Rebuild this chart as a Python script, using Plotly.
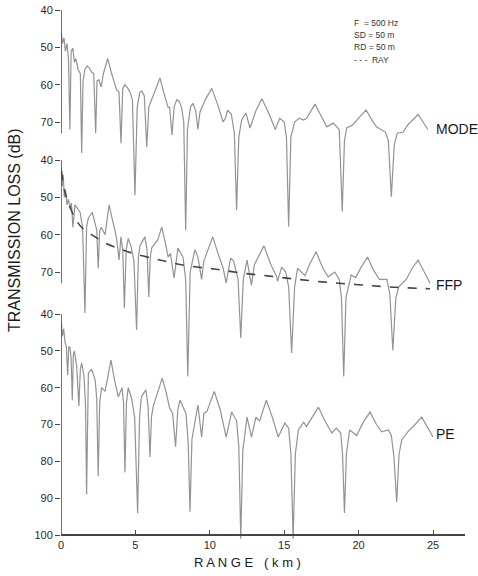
import plotly.graph_objects as go

# ---------------- data ----------------
MODE_R = [0.02, 0.1, 0.2, 0.3, 0.4, 0.5, 0.6, 0.68, 0.8, 0.9, 1.0, 1.15, 1.3, 1.39, 1.48, 1.6, 1.75, 1.9, 2.05, 2.2,
          2.33, 2.42, 2.55, 2.7, 2.85, 3.14, 3.4, 3.6, 3.74, 3.9, 4.03, 4.15, 4.3, 4.5, 4.64, 4.8, 4.97, 5.12, 5.3, 5.44,
          5.6, 5.76, 5.9, 6.0, 6.3, 6.65, 6.9, 7.19, 7.3, 7.46, 7.6, 7.78, 7.95, 8.1, 8.25, 8.38, 8.5, 8.7, 8.87, 9.05,
          9.2, 9.34, 9.7, 10.13, 10.5, 10.9, 11.05, 11.2, 11.45, 11.65, 11.8, 11.95, 12.14, 12.43, 12.7, 13.1, 13.5, 14.0, 14.4, 14.7,
          15.0, 15.15, 15.3, 15.45, 15.7, 16.0, 16.3, 16.5, 17.07, 17.5, 17.86, 18.3, 18.7, 18.9, 19.05, 19.2, 19.6, 20.1, 20.5, 20.9,
          21.2, 21.8, 22.0, 22.2, 22.4, 22.6, 23.0, 23.3, 24.0, 24.66]
MODE_TL = [46, 49, 47.5, 51, 49, 53, 72, 51, 50.2, 54, 53, 56, 57, 78.3, 59, 56, 55, 55.5, 56.6, 57,
           73, 59, 58.7, 60.6, 57, 53, 57, 60, 61.4, 62, 75.7, 61, 60, 61, 62, 64, 89.6, 66, 62, 61.7,
           63, 76.7, 66, 65, 62, 58.2, 62, 66, 66, 73.5, 66, 64, 64.5, 66, 70, 99, 72, 66, 65, 67,
           72, 67.3, 64, 61, 65, 70, 69, 66.8, 68, 73, 93.6, 74, 69.5, 67.6, 71.6, 67, 63.8, 68, 72, 69,
           70, 74, 98, 74, 70, 69, 69.5, 69, 65.2, 68.5, 71.3, 70.3, 72, 94, 75, 71.6, 70.8, 68.5, 66.8, 69.5,
           71.3, 72.7, 75, 90, 76, 73, 72.7, 70.8, 68, 72]

FFP_R = [0.02, 0.08, 0.15, 0.22, 0.3, 0.4, 0.5, 0.6, 0.7, 0.8, 0.94, 1.1, 1.28, 1.45, 1.61, 1.72, 1.84, 2.1, 2.3, 2.4,
         2.5, 2.6, 2.7, 2.96, 3.23, 3.5, 3.74, 3.9, 4.03, 4.15, 4.26, 4.38, 4.52, 4.7, 4.9, 5.08, 5.2, 5.3, 5.64, 5.78,
         5.9, 6.0, 6.1, 6.5, 6.77, 7.0, 7.2, 7.35, 7.6, 7.86, 8.2, 8.38, 8.52, 8.68, 9.0, 9.2, 9.45, 9.6, 9.8, 10.2,
         10.55, 10.9, 11.1, 11.4, 11.6, 11.9, 12.08, 12.25, 12.5, 12.8, 13.0, 13.64, 14.1, 14.5, 14.55, 14.83, 15.1, 15.3, 15.5, 15.7,
         15.9, 16.4, 16.7, 17.14, 17.6, 17.95, 18.4, 18.7, 18.85, 19.0, 19.15, 19.5, 19.8, 20.2, 20.6, 21.0, 21.4, 21.9, 22.1, 22.3,
         22.5, 22.7, 23.2, 23.6, 24.0, 24.8]
FFP_TL = [42, 47, 44, 50, 48, 52, 50.5, 53, 51.5, 58, 52, 53, 54, 58, 81, 58, 55.5, 54, 57, 58.7,
          69, 59, 58, 60, 52, 57, 61, 66.8, 60.6, 64, 79.7, 64, 61, 63, 67, 85.5, 66, 63, 60.6, 64,
          76.7, 66, 63.5, 61.4, 58, 62, 66, 65, 71.6, 63.6, 66, 72, 98, 70, 64, 66, 72, 67, 65, 60.6,
          65, 69, 73, 66.3, 67, 72, 87.7, 72, 66.8, 73.5, 68, 63, 68, 71.3, 72.5, 68.7, 70, 74, 91.7, 74,
          69, 71, 68, 64.6, 69, 71.3, 70, 72, 77, 98, 77, 70.8, 71.5, 68.5, 66, 69.5, 72, 72, 76, 91,
          77, 74, 72, 69, 66.8, 73]

RAY_R = [0.03, 0.2, 0.5, 1.0, 1.5, 2.3, 3.0, 4.1, 5.0, 6.1, 7.3, 8.6, 10.3, 12.0, 14.0, 16.0, 18.0, 20.0, 22.0, 24.8]
RAY_TL = [43, 47.5, 51.5, 56, 58.5, 60.6, 62.3, 64, 65.2, 66.3, 67.4, 68.4, 69.2, 70.2, 71.1, 72, 72.8, 73.4, 74, 74.5]

PE_R = [0.02, 0.1, 0.18, 0.27, 0.36, 0.45, 0.52, 0.6, 0.68, 0.76, 0.83, 0.9, 1.05, 1.2, 1.3, 1.39, 1.55, 1.65, 1.72, 1.78,
        1.84, 2.06, 2.3, 2.4, 2.5, 2.6, 2.73, 2.96, 3.36, 3.6, 3.85, 4.1, 4.2, 4.3, 4.4, 4.52, 4.75, 4.95, 5.15, 5.28,
        5.4, 5.7, 5.85, 5.98, 6.08, 6.2, 6.8, 7.05, 7.3, 7.5, 7.7, 7.85, 8.0, 8.4, 8.55, 8.67, 8.8, 9.2, 9.45, 9.6,
        9.8, 10.3, 10.7, 11.1, 11.47, 11.8, 11.95, 12.08, 12.22, 12.5, 12.8, 13.1, 13.35, 13.8, 14.2, 14.6, 15.05, 15.3, 15.45, 15.6,
        15.75, 15.95, 16.3, 16.5, 17.3, 17.8, 18.2, 18.5, 18.8, 18.92, 19.05, 19.18, 19.4, 19.87, 20.3, 20.77, 21.2, 21.55, 22.0, 22.2,
        22.38, 22.56, 22.72, 22.9, 23.3, 23.8, 24.24, 25.0]
PE_TL = [42, 46, 44, 47.6, 49, 56.6, 49, 49, 52, 63.4, 51, 50, 54, 65, 55, 53.3, 57, 65, 89, 62,
         56, 55, 58, 63, 84, 64, 60, 61, 52.5, 58, 62.5, 60, 64, 83, 64, 60, 63, 68, 94, 68,
         62.5, 60.6, 65, 78.8, 68, 65, 57.4, 61, 65.5, 67, 76, 66, 63.4, 67, 75, 93.7, 74, 64.7, 73.4, 67,
         66.5, 61, 66, 73.4, 66.6, 69, 76, 101, 77, 68, 73.4, 68, 69, 63.4, 68, 73.4, 69.6, 71, 78, 101,
         78, 71.5, 69.4, 70.5, 65.3, 69.5, 72.3, 71, 72.3, 78, 94, 78, 71.5, 73, 69.5, 66.6, 70, 72, 71.5, 73,
         79, 91, 78, 74.2, 72, 70, 68, 73.4]

X_TICKS = [0, 5, 10, 15, 20, 25]
Y_TICKS_TOP = [40, 50, 60, 70]
Y_TICKS_MID = [40, 50, 60, 70]
Y_TICKS_BOT = [40, 50, 60, 70, 80, 90, 100]
CURVE_NAMES = ["MODE", "FFP", "PE"]
PARAM_LINES = ["F  = 500 Hz", "SD = 50 m", "RD = 50 m", "- - -  RAY"]

# ---------------- layout geometry (pixels) ----------------
W, H = 478, 576
L, R, T, B = 61, 465, 4, 548
KM_PX = (433 - 61) / 25.0
X_MAX = (R - L) / KM_PX


def yrange(v0, p0, v1, p1):
    s = (p1 - p0) / (v1 - v0)
    top = v0 - (p0 - T) / s
    bot = v0 + (B - p0) / s
    return [bot, top]


def px(xp):
    return (xp - L) / (R - L)


def py(yp):
    return (B - yp) / (B - T)


CURVE = dict(color="#939393", width=1.2)
fig = go.Figure()
fig.add_trace(go.Scatter(x=MODE_R, y=MODE_TL, yaxis="y3", mode="lines", line=CURVE,
                         showlegend=False, hoverinfo="skip"))
fig.add_trace(go.Scatter(x=FFP_R, y=FFP_TL, yaxis="y2", mode="lines", line=CURVE,
                         showlegend=False, hoverinfo="skip"))
fig.add_trace(go.Scatter(x=RAY_R, y=RAY_TL, yaxis="y2", mode="lines",
                         line=dict(color="#454545", width=1.6, dash="dash"),
                         line_shape="spline", showlegend=False, hoverinfo="skip"))
fig.add_trace(go.Scatter(x=PE_R, y=PE_TL, yaxis="y", mode="lines", line=CURVE,
                         showlegend=False, hoverinfo="skip"))

TICKFONT = dict(family="Liberation Sans, Arial, sans-serif", size=11, color="#2a2a2a")
yax_common = dict(showgrid=False, zeroline=False, showline=False, ticks="outside", ticklen=5,
                  tickcolor="#444444", tickwidth=1.2, tickfont=TICKFONT, tickmode="array")

fig.update_layout(
    width=W, height=H,
    margin=dict(l=L, r=W - R, t=T, b=H - B),
    plot_bgcolor="white", paper_bgcolor="white",
    xaxis=dict(range=[0, X_MAX], anchor="free", position=py(535), showgrid=False, zeroline=False,
               showline=True, linecolor="#444444", linewidth=1.5, ticks="inside", ticklen=4,
               tickcolor="#444444", tickmode="array", tickvals=X_TICKS, tickfont=TICKFONT),
    yaxis=dict(range=yrange(40, 314, 100, 535), tickvals=Y_TICKS_BOT, anchor="x", **yax_common),
    yaxis2=dict(range=yrange(40, 160, 70, 272), tickvals=Y_TICKS_MID, overlaying="y", anchor="x",
                side="left", **yax_common),
    yaxis3=dict(range=yrange(40, 10, 70, 122), tickvals=Y_TICKS_TOP, overlaying="y", anchor="x",
                side="left", **yax_common),
)

AX = dict(color="#444444", width=1.5)
fig.add_shape(type="line", xref="x", yref="y3", x0=0, x1=0, y0=Y_TICKS_TOP[0], y1=73, line=AX)
fig.add_shape(type="line", xref="x", yref="y2", x0=0, x1=0, y0=Y_TICKS_MID[0], y1=73, line=AX)
fig.add_shape(type="line", xref="x", yref="y", x0=0, x1=0, y0=Y_TICKS_BOT[0], y1=Y_TICKS_BOT[-1], line=AX)

LABELFONT = dict(family="Liberation Sans, Arial, sans-serif", size=14, color="#1a1a1a")
for name, yp in zip(CURVE_NAMES, [129, 285, 434]):
    fig.add_annotation(text=name, x=px(434), xref="paper", y=py(yp), yref="paper", xanchor="left",
                       yanchor="middle", showarrow=False, font=LABELFONT)

for txt, yp in zip(PARAM_LINES, [23, 35, 47, 60]):
    fig.add_annotation(text=txt, x=px(352), xref="paper", y=py(yp), yref="paper", xanchor="left",
                       yanchor="middle", showarrow=False,
                       font=dict(family="Liberation Sans, Arial, sans-serif", size=8.5, color="#333333"))

fig.add_annotation(text="TRANSMISSION LOSS (dB)", x=px(15), xref="paper", y=py(230), yref="paper",
                   textangle=-90, showarrow=False, xanchor="center", yanchor="middle",
                   font=dict(family="Liberation Sans, Arial, sans-serif", size=16, color="#1a1a1a"))
fig.add_annotation(text="R A N G E   ( k m )", x=px(247), xref="paper", y=py(562), yref="paper",
                   showarrow=False, xanchor="center", yanchor="middle",
                   font=dict(family="Liberation Sans, Arial, sans-serif", size=13, color="#1a1a1a"))

fig.write_html("out.html", config={"displayModeBar": False},
               post_script="document.body.style.margin='0px';document.body.style.overflow='hidden';")
